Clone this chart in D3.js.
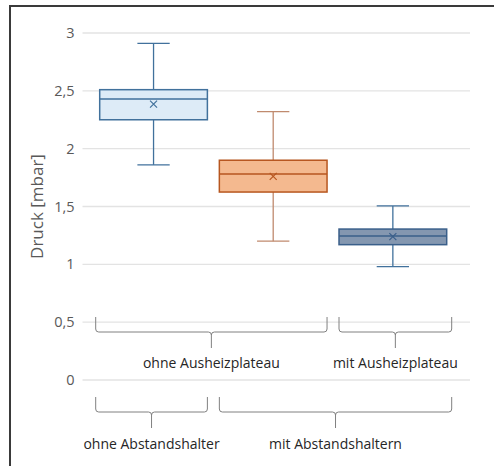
<!DOCTYPE html>
<html>
<head>
<meta charset="utf-8">
<script src="https://cdn.jsdelivr.net/npm/d3@7/dist/d3.min.js"></script>
<style>
  html, body { margin: 0; padding: 0; background: #fff; }
  svg { display: block; font-family: "Open Sans", "Noto Sans", sans-serif; }
</style>
</head>
<body>
<div id="chart"></div>
<script>
// Box-plot statistics per measurement series (pressure in mbar)
const series   = ["A", "B", "C"];
const whiskLow = [1.86, 1.20, 0.98];
const q1       = [2.25, 1.625, 1.17];
const median   = [2.43, 1.78, 1.245];
const mean     = [2.385, 1.76, 1.24];
const q3       = [2.51, 1.90, 1.305];
const whiskHigh= [2.91, 2.32, 1.505];

const yTicks = [0, 0.5, 1, 1.5, 2, 2.5, 3];
const yTickLabels = ["0", "0,5", "1", "1,5", "2", "2,5", "3"];
const yTitle = "Druck [mbar]";

// Grouping braces below the plot: [first series index, last series index]
const upperGroups = [[0, 1], [2, 2]];
const upperLabels = ["ohne Ausheizplateau", "mit Ausheizplateau"];
const lowerGroups = [[0, 0], [1, 2]];
const lowerLabels = ["ohne Abstandshalter", "mit Abstandshaltern"];

const fills   = ["#DDEBF7", "#F4B98F", "#8497B0"];
const strokes = ["#41719C", "#B7561F", "#3A5F8A"];
const whiskerStrokes = ["#41719C", "#C08A6E", "#41719C"];

const W = 494, H = 466;
const svg = d3.select("#chart").append("svg").attr("width", W).attr("height", H);

// chart frame (extends past the right and bottom edges)
svg.append("rect")
  .attr("x", 10).attr("y", 6).attr("width", 500).attr("height", 480)
  .attr("fill", "none").attr("stroke", "#3a3a3a").attr("stroke-width", 2);

const y = d3.scaleLinear().domain([0, 3]).range([380, 33]);
const x = d3.scaleBand().domain(series).range([99.7, 446.7]).paddingInner(0.1).paddingOuter(0);
const plotL = 82.5, plotR = 470;

// gridlines
svg.append("g").selectAll("line").data(yTicks).join("line")
  .attr("x1", plotL).attr("x2", plotR)
  .attr("y1", d => y(d)).attr("y2", d => y(d))
  .attr("stroke", "#e3e3e3").attr("stroke-width", 1.3);

// y axis labels via d3 axis
const yAxis = d3.axisLeft(y).tickValues(yTicks)
  .tickFormat((d, i) => yTickLabels[i]).tickSize(0).tickPadding(8);
const ga = svg.append("g").attr("transform", `translate(${plotL},0)`).call(yAxis);
ga.select(".domain").remove();
ga.selectAll("text").attr("fill", "#595959").attr("font-size", 14.5)
  .attr("font-family", "'Open Sans', 'Noto Sans', sans-serif");

// y title
svg.append("text")
  .attr("transform", `translate(43,${(y(0) + y(3)) / 2}) rotate(-90)`)
  .attr("text-anchor", "middle").attr("fill", "#595959").attr("font-size", 17)
  .text(yTitle);

// boxes
const bw = x.bandwidth();
const capW = bw * 0.3;
series.forEach((s, i) => {
  const cx = x(s) + bw / 2;
  const g = svg.append("g");
  // whisker stems
  g.append("line").attr("x1", cx).attr("x2", cx)
    .attr("y1", y(whiskHigh[i])).attr("y2", y(q3[i]))
    .attr("stroke", whiskerStrokes[i]).attr("stroke-width", 1.3);
  g.append("line").attr("x1", cx).attr("x2", cx)
    .attr("y1", y(q1[i])).attr("y2", y(whiskLow[i]))
    .attr("stroke", whiskerStrokes[i]).attr("stroke-width", 1.3);
  // caps
  [whiskHigh[i], whiskLow[i]].forEach(v => {
    g.append("line").attr("x1", cx - capW / 2).attr("x2", cx + capW / 2)
      .attr("y1", y(v)).attr("y2", y(v))
      .attr("stroke", whiskerStrokes[i]).attr("stroke-width", 1.3);
  });
  // box
  g.append("rect").attr("x", x(s)).attr("width", bw)
    .attr("y", y(q3[i])).attr("height", y(q1[i]) - y(q3[i]))
    .attr("fill", fills[i]).attr("stroke", strokes[i]).attr("stroke-width", 1.5);
  // median
  g.append("line").attr("x1", x(s)).attr("x2", x(s) + bw)
    .attr("y1", y(median[i])).attr("y2", y(median[i]))
    .attr("stroke", strokes[i]).attr("stroke-width", 1.5);
  // mean marker
  const m = 3.5, my = y(mean[i]);
  g.append("path")
    .attr("d", `M${cx - m},${my - m}L${cx + m},${my + m}M${cx - m},${my + m}L${cx + m},${my - m}`)
    .attr("stroke", strokes[i]).attr("stroke-width", 1.2).attr("fill", "none");
});

// curly brace under a range of series
function brace(group, top, mid, tip) {
  let x0 = x(series[group[0]]);
  let x1 = x(series[group[1]]) + bw;
  if (group[0] === 0) x0 -= 4;
  if (group[1] === series.length - 1) x1 += 5;
  const xm = (x0 + x1) / 2, r = 3;
  const d = `M${x0},${top} L${x0},${mid - r} Q${x0},${mid} ${x0 + r},${mid}` +
            ` L${xm - r},${mid} Q${xm},${mid} ${xm},${mid + r} L${xm},${tip}` +
            ` M${xm},${mid + r} Q${xm},${mid} ${xm + r},${mid}` +
            ` L${x1 - r},${mid} Q${x1},${mid} ${x1},${mid - r} L${x1},${top}`;
  svg.append("path").attr("d", d).attr("fill", "none")
    .attr("stroke", "#808080").attr("stroke-width", 1);
  return xm;
}

upperGroups.forEach((g, i) => {
  const xm = brace(g, 317, 332, 348);
  svg.append("text").attr("x", xm).attr("y", 368).attr("text-anchor", "middle")
    .attr("font-size", 14).attr("fill", "#262626").text(upperLabels[i]);
});
lowerGroups.forEach((g, i) => {
  const xm = brace(g, 397, 412, 428);
  svg.append("text").attr("x", xm).attr("y", 449).attr("text-anchor", "middle")
    .attr("font-size", 14).attr("fill", "#262626").text(lowerLabels[i]);
});
</script>
</body>
</html>
